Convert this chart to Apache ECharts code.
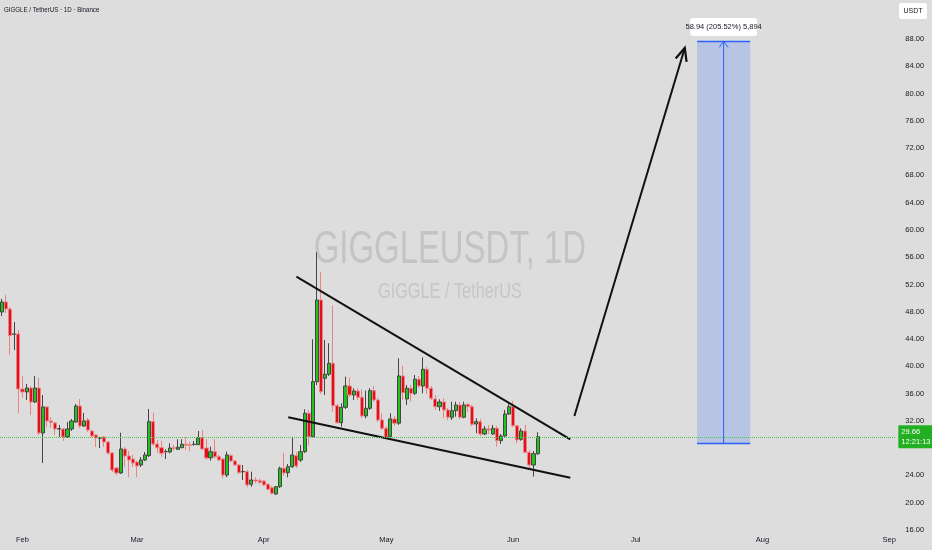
<!DOCTYPE html>
<html><head><meta charset="utf-8">
<script src="https://cdn.jsdelivr.net/npm/echarts@6/dist/echarts.min.js"></script>
<style>html,body{margin:0;padding:0;background:#dddddd;}#c{width:932px;height:550px;}</style>
</head><body><div id="c"></div>
<script>
// ---- data ----
const firstDay = [2025, 0, 27];
const dayCount = 219;
const monthNames = ['Jan','Feb','Mar','Apr','May','Jun','Jul','Aug','Sep','Oct','Nov','Dec'];
const opens = [47.96,49.43,48.40,44.70,44.74,36.67,36.24,36.82,34.77,36.82,30.22,34.04,31.98,31.69,30.81,30.81,29.64,30.81,31.84,34.18,31.25,32.13,30.52,29.93,29.46,29.64,28.90,27.29,25.09,24.36,27.88,26.85,26.41,25.97,25.53,26.26,26.90,31.88,28.61,28.07,27.48,27.44,28.07,27.83,28.07,28.57,28.51,28.54,28.51,29.53,28.02,26.60,27.48,26.75,26.41,24.06,26.90,26.12,25.53,24.53,24.55,22.70,23.33,23.23,23.18,22.70,22.20,21.28,22.35,25.05,24.40,25.28,26.90,26.26,27.48,33.11,29.68,37.75,49.72,38.24,38.83,40.44,34.23,31.73,33.99,37.11,35.79,36.38,35.46,32.72,33.84,36.43,35.06,32.13,30.91,29.68,32.28,31.65,38.58,35.21,36.78,36.04,38.10,37.11,39.56,36.78,35.21,34.08,34.77,33.60,32.53,33.49,34.33,32.53,34.43,34.08,31.54,31.88,30.08,30.81,30.08,30.91,29.09,29.78,33.01,34.08,31.29,29.30,30.52,27.39,25.53,27.19];
const closes = [49.43,48.40,44.49,44.74,36.67,36.24,36.82,34.77,36.82,30.22,34.04,31.98,31.76,30.81,30.85,29.64,30.81,31.98,34.18,31.25,31.98,30.66,29.78,29.49,29.52,28.90,27.29,24.80,24.36,27.88,26.85,26.26,25.82,25.38,26.26,27.00,31.88,28.61,28.07,27.25,27.51,28.02,27.95,28.13,28.57,28.42,28.42,28.58,29.53,27.88,26.56,27.48,26.75,26.26,24.06,27.00,26.12,25.53,24.40,24.58,22.60,23.33,23.18,22.99,22.60,21.97,21.38,22.35,25.05,24.36,25.28,27.00,25.38,27.48,33.11,29.68,37.75,49.72,36.28,38.83,40.44,34.23,31.73,33.99,37.11,35.79,36.38,35.46,32.72,33.84,36.43,35.06,32.13,30.91,29.59,32.28,31.65,38.58,36.13,36.78,36.04,38.10,37.11,39.56,36.78,35.31,34.08,34.77,33.60,32.53,33.49,34.33,32.53,34.33,34.08,31.50,31.88,30.08,30.81,30.66,30.91,29.09,29.78,33.01,34.08,31.29,29.20,30.52,27.39,25.53,27.19,29.66];
const lows = [47.38,47.82,41.66,42.39,33.16,35.36,35.06,32.86,34.62,29.93,25.82,31.10,30.96,29.93,29.64,29.05,29.49,30.52,31.69,30.96,31.10,30.37,29.64,28.17,28.02,28.17,27.00,24.50,24.06,24.21,25.24,23.77,25.24,23.77,25.24,26.12,26.70,28.32,27.33,26.75,26.41,27.25,27.63,27.73,27.98,27.73,27.58,28.36,28.46,27.73,26.26,26.16,26.51,26.12,23.58,23.73,25.97,25.38,24.21,23.33,22.26,22.35,22.85,22.74,22.45,21.87,21.23,21.13,22.16,23.92,23.73,25.09,25.09,25.97,27.29,28.46,29.49,37.26,35.94,35.79,38.58,33.35,31.54,31.15,33.74,35.50,35.06,35.06,32.42,32.38,33.60,34.77,31.84,30.66,29.34,29.49,31.25,31.40,35.06,34.33,34.81,35.79,36.82,36.04,35.94,35.06,33.60,33.45,32.38,32.13,32.13,32.61,32.28,32.38,33.35,31.25,30.18,29.78,29.93,30.08,29.93,28.21,28.61,29.64,32.86,31.10,28.71,29.09,27.29,24.80,23.82,27.00];
const highs = [49.87,50.46,48.70,46.50,45.33,38.58,37.41,37.11,38.58,38.29,35.79,34.18,32.57,31.84,31.40,30.96,31.84,32.28,34.48,35.21,33.16,32.42,30.66,30.08,29.64,29.78,29.05,27.44,25.24,30.27,28.17,27.58,27.00,26.12,26.70,27.44,33.74,33.20,29.20,29.09,27.83,28.71,28.46,29.30,29.30,29.59,28.95,29.05,30.52,30.66,29.30,28.21,29.30,27.00,26.56,27.48,27.14,26.26,25.68,25.53,24.80,24.55,23.73,23.58,23.33,22.89,22.45,22.45,25.28,27.33,25.68,29.68,27.44,28.46,33.70,33.60,43.96,56.72,53.87,43.86,43.38,48.89,34.48,34.58,38.48,38.39,36.78,36.78,36.63,36.43,36.78,37.11,35.36,33.11,31.25,33.11,32.72,41.18,40.05,37.26,37.26,38.73,38.58,41.32,39.90,37.11,35.79,35.16,35.31,33.89,34.81,34.81,34.81,34.81,34.58,34.33,32.38,32.28,31.25,31.40,31.40,31.25,30.08,33.60,34.43,34.92,31.40,30.91,31.40,27.73,27.58,30.33];
const lastPrice = 29.66;
const lastPriceTimer = '12:21:13';
const upperLine = [['2025-04-09', 53.13], ['2025-06-15', 29.30]];
const lowerLine = [['2025-04-07', 32.54], ['2025-06-15', 23.67]];
const projArrow = [['2025-06-16', 32.72], ['2025-07-13', 86.67]];
const longDates = ['2025-07-16', '2025-07-29'];
const longPrices = [28.68, 87.62];
const longLabel = '58.94 (205.52%) 5,894';
const yMin = 16, yMax = 93.7, yStep = 4, yLabelTop = 88;
const titleText = 'GIGGLE / TetherUS \u00b7 1D \u00b7 Binance';
const wmMain = 'GIGGLEUSDT, 1D';
const wmSub = 'GIGGLE / TetherUS';
const unitText = 'USDT';

// ---- build ----
const cats = [];
for (let i = 0; i < dayCount; i++) {
  const d = new Date(Date.UTC(firstDay[0], firstDay[1], firstDay[2] + i));
  cats.push(d.toISOString().slice(0, 10));
}
const candles = opens.map((o, i) => [o, closes[i], lows[i], highs[i]]);
const ci = d => cats.indexOf(d);
const FONT = '"Liberation Sans Narrow", "Arial Narrow", "Liberation Sans", sans-serif';

function chevron(tip, from, len, ang) {
  const th = Math.atan2(from[1] - tip[1], from[0] - tip[0]);
  return [[tip[0] + len * Math.cos(th + ang), tip[1] + len * Math.sin(th + ang)],
          [tip[0] + len * Math.cos(th - ang), tip[1] + len * Math.sin(th - ang)]];
}

const chart = echarts.init(document.getElementById('c'), null, {renderer: 'canvas'});
chart.setOption({
  animation: false,
  backgroundColor: '#dddddd',
  grid: {left: -2.58, top: 0, width: 897.9, bottom: 20},
  xAxis: {
    type: 'category', data: cats, boundaryGap: true,
    axisLine: {show: false}, axisTick: {show: false}, splitLine: {show: false},
    axisLabel: {
      interval: (idx, val) => val.slice(8) === '01',
      formatter: val => monthNames[+val.slice(5, 7) - 1],
      color: '#131722', fontSize: 7.5, fontFamily: FONT, margin: 6
    }
  },
  yAxis: {
    type: 'value', position: 'right', min: yMin, max: yMax, interval: yStep, scale: true,
    axisLine: {show: false}, axisTick: {show: false}, splitLine: {show: false},
    axisLabel: {
      // labels hidden where they would sit under the last-price tag
      formatter: v => (v <= yLabelTop && Math.abs(v % yStep) < 1e-9 && Math.abs(v - lastPrice) > 2) ? v.toFixed(2) : '',
      color: '#131722', fontSize: 7.5, fontFamily: FONT, margin: 10
    }
  },
  graphic: [
    {type: 'text', x: 449.9, y: 250, scaleX: 0.715, z: -1,
     style: {text: wmMain, font: '46px "Liberation Sans", Arial, sans-serif', fill: '#c4c4c4', align: 'center', verticalAlign: 'middle'}},
    {type: 'text', x: 449.9, y: 291.5, scaleX: 0.74, z: -1,
     style: {text: wmSub, font: '22px "Liberation Sans", Arial, sans-serif', fill: '#c6c6c6', align: 'center', verticalAlign: 'middle'}},
    {type: 'text', x: 4, y: 10, scaleX: 0.82,
     style: {text: titleText, font: '7.5px "Liberation Sans", Arial, sans-serif', fill: '#131722', align: 'left', verticalAlign: 'middle'}},
    {type: 'group', x: 899, y: 3, children: [
      {type: 'rect', shape: {x: 0, y: 0, width: 28, height: 16, r: 2}, style: {fill: '#ffffff'}},
      {type: 'text', x: 14, y: 8, style: {text: unitText, font: '7px ' + FONT, fill: '#131722', align: 'center', verticalAlign: 'middle'}}
    ]}
  ],
  series: [
    {
      type: 'candlestick', data: candles, barWidth: 3.6, z: 3,
      itemStyle: {color: '#1fc21f', color0: '#e3101c', borderColor: '#454545', borderColor0: '#ec8282', borderWidth: 1},
      markLine: {
        silent: true, symbol: 'none', animation: false,
        lineStyle: {type: 'dotted', color: '#4cc84c', width: 1},
        label: {show: true, position: 'end', distance: 3, formatter: lastPrice.toFixed(2) + '\n' + lastPriceTimer,
                backgroundColor: '#22b022', color: '#ffffff', fontSize: 7.5, lineHeight: 9.5, fontFamily: FONT,
                padding: [2, 3, 2, 3], borderRadius: 1, align: 'left'},
        data: [{yAxis: lastPrice}]
      }
    },
    {
      type: 'custom', coordinateSystem: 'cartesian2d', data: [[0, 30]], z: 4, silent: true,
      renderItem: (params, api) => {
        const p = (d, v) => api.coord([ci(d), v]);
        const children = [];
        [upperLine, lowerLine].forEach(l => {
          const a = p(l[0][0], l[0][1]), b = p(l[1][0], l[1][1]);
          children.push({type: 'line', shape: {x1: a[0], y1: a[1], x2: b[0], y2: b[1]}, style: {stroke: '#111111', lineWidth: 2}});
        });
        const s = p(projArrow[0][0], projArrow[0][1]), e = p(projArrow[1][0], projArrow[1][1]);
        children.push({type: 'line', shape: {x1: s[0], y1: s[1], x2: e[0], y2: e[1]}, style: {stroke: '#111111', lineWidth: 2}});
        const ch = chevron(e, s, 14, 0.42);
        children.push({type: 'polyline', shape: {points: [ch[0], e, ch[1]]}, style: {stroke: '#111111', lineWidth: 2.2, fill: null}});
        const tl = p(longDates[0], longPrices[1]), br = p(longDates[1], longPrices[0]);
        const cx = (tl[0] + br[0]) / 2;
        children.push({type: 'rect', shape: {x: tl[0], y: tl[1], width: br[0] - tl[0], height: br[1] - tl[1]}, style: {fill: 'rgba(41,98,255,0.2)'}});
        children.push({type: 'line', shape: {x1: tl[0], y1: tl[1], x2: br[0], y2: tl[1]}, style: {stroke: '#2962ff', lineWidth: 1.5}});
        children.push({type: 'line', shape: {x1: tl[0], y1: br[1], x2: br[0], y2: br[1]}, style: {stroke: '#2962ff', lineWidth: 1.5}});
        children.push({type: 'line', shape: {x1: cx, y1: br[1], x2: cx, y2: tl[1]}, style: {stroke: '#2962ff', lineWidth: 1}});
        children.push({type: 'polyline', shape: {points: [[cx - 4.5, tl[1] + 6], [cx, tl[1]], [cx + 4.5, tl[1] + 6]]}, style: {stroke: '#2962ff', lineWidth: 1, fill: null}});
        children.push({type: 'rect', shape: {x: cx - 33.5, y: tl[1] - 23.5, width: 67, height: 18, r: 3}, style: {fill: '#ffffff'}});
        children.push({type: 'text', x: cx, y: tl[1] - 14.5, style: {text: longLabel, font: '7.5px ' + FONT, fill: '#131722', align: 'center', verticalAlign: 'middle'}});
        return {type: 'group', children};
      }
    }
  ]
});
</script>
</body></html>
